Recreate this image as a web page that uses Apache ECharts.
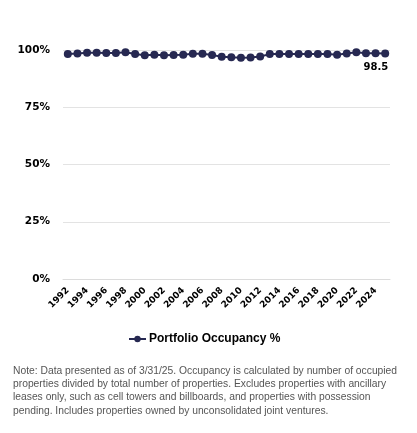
<!DOCTYPE html>
<html>
<head>
<meta charset="utf-8">
<script src="https://cdn.jsdelivr.net/npm/echarts@6.0.0/dist/echarts.min.js"></script>
<style>
  html, body { margin: 0; padding: 0; background: #fff; }
  #main { width: 417px; height: 433px; }
</style>
</head>
<body>
<div id="main"></div>
<script>
// years 1992 - 2025
var years = [];
for (var y = 1992; y <= 2025; y++) years.push(String(y));

// portfolio occupancy %
var occupancy = [
  98.3, 98.5, 98.8, 98.8, 98.7, 98.7, 99.0, 98.3, 97.7, 97.9,
  97.7, 97.8, 97.9, 98.4, 98.4, 97.8, 97.1, 96.8, 96.6, 96.7,
  97.2, 98.2, 98.3, 98.2, 98.2, 98.3, 98.3, 98.3, 97.9, 98.5,
  99.0, 98.6, 98.6, 98.5
];

var yTicks = [0, 25, 50, 75, 100];

var noteText = 'Note: Data presented as of 3/31/25. Occupancy is calculated by number of occupied\n' +
  'properties divided by total number of properties. Excludes properties with ancillary\n' +
  'leases only, such as cell towers and billboards, and properties with possession\n' +
  'pending. Includes properties owned by unconsolidated joint ventures.';

var navy = '#262851';

var chart = echarts.init(document.getElementById('main'));
chart.setOption({
  animation: false,
  title: {
    text: noteText,
    left: 8,
    top: 359,
    textStyle: {
      fontFamily: 'Liberation Sans',
      fontSize: 10.3,
      fontWeight: 'normal',
      color: '#555',
      lineHeight: 13.4
    }
  },
  legend: {
    top: 328,
    left: 123,
    itemWidth: 17,
    itemHeight: 8,
    itemGap: 3,
    textStyle: {
      fontFamily: 'Liberation Sans',
      fontSize: 12,
      fontWeight: 'bold',
      color: '#000',
      padding: [0, 0, 0, -2]
    },
    data: ['Portfolio Occupancy %']
  },
  grid: { left: 63, right: 27, top: 50, height: 229, containLabel: false },
  xAxis: {
    type: 'category',
    data: years,
    boundaryGap: true,
    axisLine: { show: true, lineStyle: { color: '#dcdcdc' } },
    axisTick: { show: false },
    axisLabel: {
      interval: 1,
      rotate: 45,
      margin: 10,
      fontFamily: 'DejaVu Sans',
      fontSize: 9,
      fontWeight: 'bold',
      color: '#000'
    }
  },
  yAxis: {
    type: 'value',
    min: 0,
    max: 100,
    interval: 25,
    axisLine: { show: false },
    axisTick: { show: false },
    splitLine: { lineStyle: { color: '#e3e3e3' } },
    axisLabel: {
      margin: 13,
      fontFamily: 'DejaVu Sans',
      fontSize: 10.5,
      fontWeight: 'bold',
      color: '#000',
      formatter: function (v) { return yTicks.indexOf(v) >= 0 ? v + '%' : ''; }
    }
  },
  series: [{
    name: 'Portfolio Occupancy %',
    type: 'line',
    data: occupancy,
    symbol: 'circle',
    symbolSize: 8,
    showSymbol: true,
    showAllSymbol: true,
    lineStyle: { color: navy, width: 2 },
    itemStyle: { color: navy },
    label: {
      show: true,
      position: 'bottom',
      distance: 5,
      align: 'right',
      offset: [3, 0],
      fontFamily: 'DejaVu Sans',
      fontSize: 10,
      fontWeight: 'bold',
      color: '#000',
      formatter: function (p) { return p.dataIndex === occupancy.length - 1 ? p.value : ''; }
    }
  }]
});
</script>
</body>
</html>
